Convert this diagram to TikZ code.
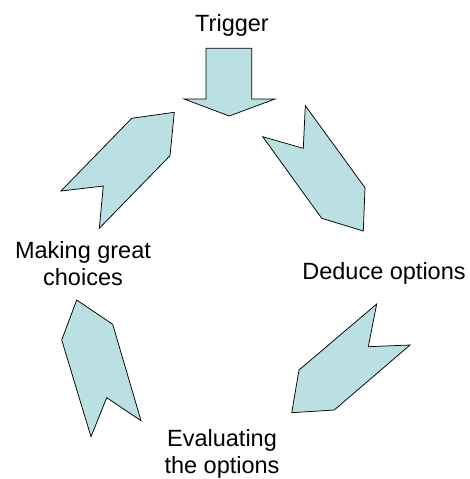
\documentclass[tikz,border=0pt]{standalone}
\usepackage{fontspec}
\setmainfont{Liberation Sans}
\definecolor{cyclefill}{RGB}{187,224,228}
\tikzset{every node/.style={inner sep=0pt,font=\fontsize{23.5}{27}\selectfont},
  blockarrow/.style={fill=cyclefill,draw=black,line width=0.75pt,line join=miter}}

\begin{document}
\begin{tikzpicture}[x=1pt,y=-1pt]
  \useasboundingbox (0,0) rectangle (469,479);
  \node[anchor=base] (trigger) at (232,31) {Trigger};
  \node[anchor=base] (deduce) at (384,279) {Deduce options};
  \node[anchor=base,align=center] (evaluate) at (222,473.5) {Evaluating\\the options};
  \node[anchor=base,align=center] (choose) at (83,285.5) {Making great\\choices};
  % block arrows round the cycle
  \draw[blockarrow] (206,48.3) -- (251.7,48.3) -- (251.7,99) -- (275,99) -- (229.3,116) -- (184,99) -- (206,99) -- cycle;
  \draw[blockarrow] (305.3,105.7) -- (365,187.7) -- (363.3,231) -- (321.7,218.3) -- (262.7,136.7) -- (303.3,148.3) -- cycle;
  \draw[blockarrow] (376.7,304) -- (368.3,346.7) -- (410,345) -- (334.3,410) -- (291.7,412.7) -- (299,370) -- cycle;
  \draw[blockarrow] (76.7,300) -- (112.7,324.3) -- (141,420.7) -- (106.7,397.7) -- (91,436.7) -- (61.7,340) -- cycle;
  \draw[blockarrow] (174.3,112.3) -- (170,155.7) -- (99.3,228.3) -- (103.3,186) -- (61,191) -- (131.7,118.3) -- cycle;
\end{tikzpicture}
\end{document}
